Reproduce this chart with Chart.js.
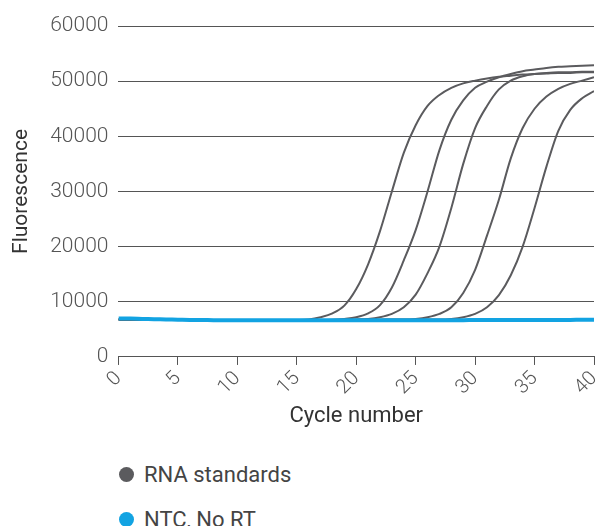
<!DOCTYPE html>
<html>
<head>
<meta charset="utf-8">
<script src="https://cdn.jsdelivr.net/npm/chart.js@4.4.1/dist/chart.umd.min.js"></script>
<style>
  body { margin: 0; background: #fff; font-family: Roboto, sans-serif; }
  #wrap { width: 599px; height: 434px; position: relative; }
  #legenda { margin-left: 119px; margin-top: 18px; }
  .item { display: flex; align-items: center; height: 45px; font-size: 22px; color: #444; }
  .ponto { width: 15px; height: 15px; border-radius: 50%; margin-right: 10px; }
</style>
</head>
<body>
<div id="wrap"><canvas id="grafico"></canvas></div>
<div id="legenda"></div>
<script>
// ciclos 0..40
let ciclos = [];
for (let i = 0; i <= 40; i++) ciclos.push(i);

let rna1 = [6800,6800,6750,6750,6700,6700,6700,6650,6650,6650,6600,6600,6600,6650,6650,6700,
  6800,7200,7900,9300,12300,16800,22800,30000,37000,42000,45500,47500,48800,49600,50100,
  50500,50800,51000,51200,51300,51400,51500,51500,51600,51600];
let rna2 = [6800,6800,6750,6750,6700,6700,6700,6650,6650,6650,6600,6600,6600,6650,6650,6650,
  6700,6700,6750,6900,7200,7900,9400,12600,17500,23000,30000,37500,43000,46500,48800,
  49900,50700,51300,51800,52100,52400,52600,52700,52800,52900];
let rna3 = [6800,6800,6750,6750,6700,6700,6700,6650,6650,6650,6600,6600,6600,6650,6650,6650,
  6650,6700,6700,6750,6800,6900,7200,7800,9000,11300,15200,20000,27000,35000,41500,
  45500,48500,50100,50900,51300,51500,51600,51600,51700,51700];
let rna4 = [6800,6800,6750,6750,6700,6700,6700,6650,6650,6650,6600,6600,6600,6650,6650,6650,
  6650,6650,6700,6700,6700,6750,6750,6800,6800,6900,7200,7800,9000,11600,15800,
  22000,28500,36000,41500,45000,47200,48600,49500,50100,50700];
let rna5 = [6800,6800,6750,6750,6700,6700,6700,6650,6650,6650,6600,6600,6600,6650,6650,6650,
  6650,6650,6650,6700,6700,6700,6700,6750,6750,6750,6800,6800,6900,7200,7800,
  9000,11200,14800,20000,27000,34500,41000,44800,46900,48200];
let ntc = [6950,6950,6900,6850,6800,6750,6700,6700,6650,6650,6650,6650,6650,6650,6650,6650,
  6650,6650,6650,6650,6650,6650,6650,6650,6650,6650,6650,6650,6650,6650,6700,
  6700,6700,6700,6700,6700,6700,6700,6700,6750,6750];

let series = [rna1, rna2, rna3, rna4, rna5];
let legendas = ['RNA standards', 'NTC, No RT'];
let cores = ['#5b5b5e', '#12a3e2'];
let ticksY = [0, 10000, 20000, 30000, 40000, 50000, 60000];

let datasets = [];
for (let s = 0; s < series.length; s++) {
    datasets.push({
        label: legendas[0],
        data: series[s].map(function (v, i) { return { x: ciclos[i], y: v }; }),
        borderColor: cores[0],
        borderWidth: 2,
        pointRadius: 0,
        cubicInterpolationMode: 'monotone',
        order: 1
    });
}
datasets.push({
    label: legendas[1],
    data: ntc.map(function (v, i) { return { x: ciclos[i], y: v }; }),
    borderColor: cores[1],
    borderWidth: 4,
    pointRadius: 0,
    tension: 0.4,
    order: 0
});

const ctx = document.getElementById('grafico');
new Chart(ctx, {
    type: 'line',
    data: { datasets: datasets },
    options: {
        responsive: true,
        maintainAspectRatio: false,
        animation: false,
        layout: { padding: { top: 26, right: 5, left: 5 } },
        plugins: { legend: { display: false }, tooltip: { enabled: false } },
        scales: {
            x: {
                type: 'linear',
                min: 0,
                max: 40,
                afterFit: function (scale) {
                    // o "40" pode sair um pouco pra direita, igual ao original
                    scale.paddingRight = 0;
                },
                ticks: {
                    stepSize: 5,
                    minRotation: 45,
                    maxRotation: 45,
                    color: '#555',
                    font: { family: 'Roboto', size: 20, weight: 300 },
                    padding: 2
                },
                grid: { drawOnChartArea: false, drawTicks: true, tickLength: 8, color: '#555' },
                border: { display: true, color: '#555', width: 1 },
                title: {
                    display: true,
                    text: 'Cycle number',
                    color: '#333',
                    font: { family: 'Roboto', size: 22 },
                    padding: { top: 2 }
                }
            },
            y: {
                min: 0,
                max: 60000,
                afterBuildTicks: function (axis) {
                    axis.ticks = ticksY.map(function (v) { return { value: v }; });
                },
                ticks: {
                    color: '#555',
                    font: { family: 'Roboto', size: 21, weight: 300 },
                    padding: 10,
                    callback: function (valor) { return String(valor); }
                },
                grid: { drawTicks: false, color: '#555', lineWidth: 1 },
                border: { display: false },
                title: {
                    display: true,
                    text: 'Fluorescence',
                    color: '#333',
                    font: { family: 'Roboto', size: 21 },
                    padding: { bottom: 6 }
                }
            }
        }
    }
});

// legenda em html, uma linha por item
let legendaDiv = document.getElementById('legenda');
for (let i = 0; i < legendas.length; i++) {
    legendaDiv.innerHTML += `<div class="item"><span class="ponto" style="background:${cores[i]}"></span>${legendas[i]}</div>`;
}
</script>
</body>
</html>
